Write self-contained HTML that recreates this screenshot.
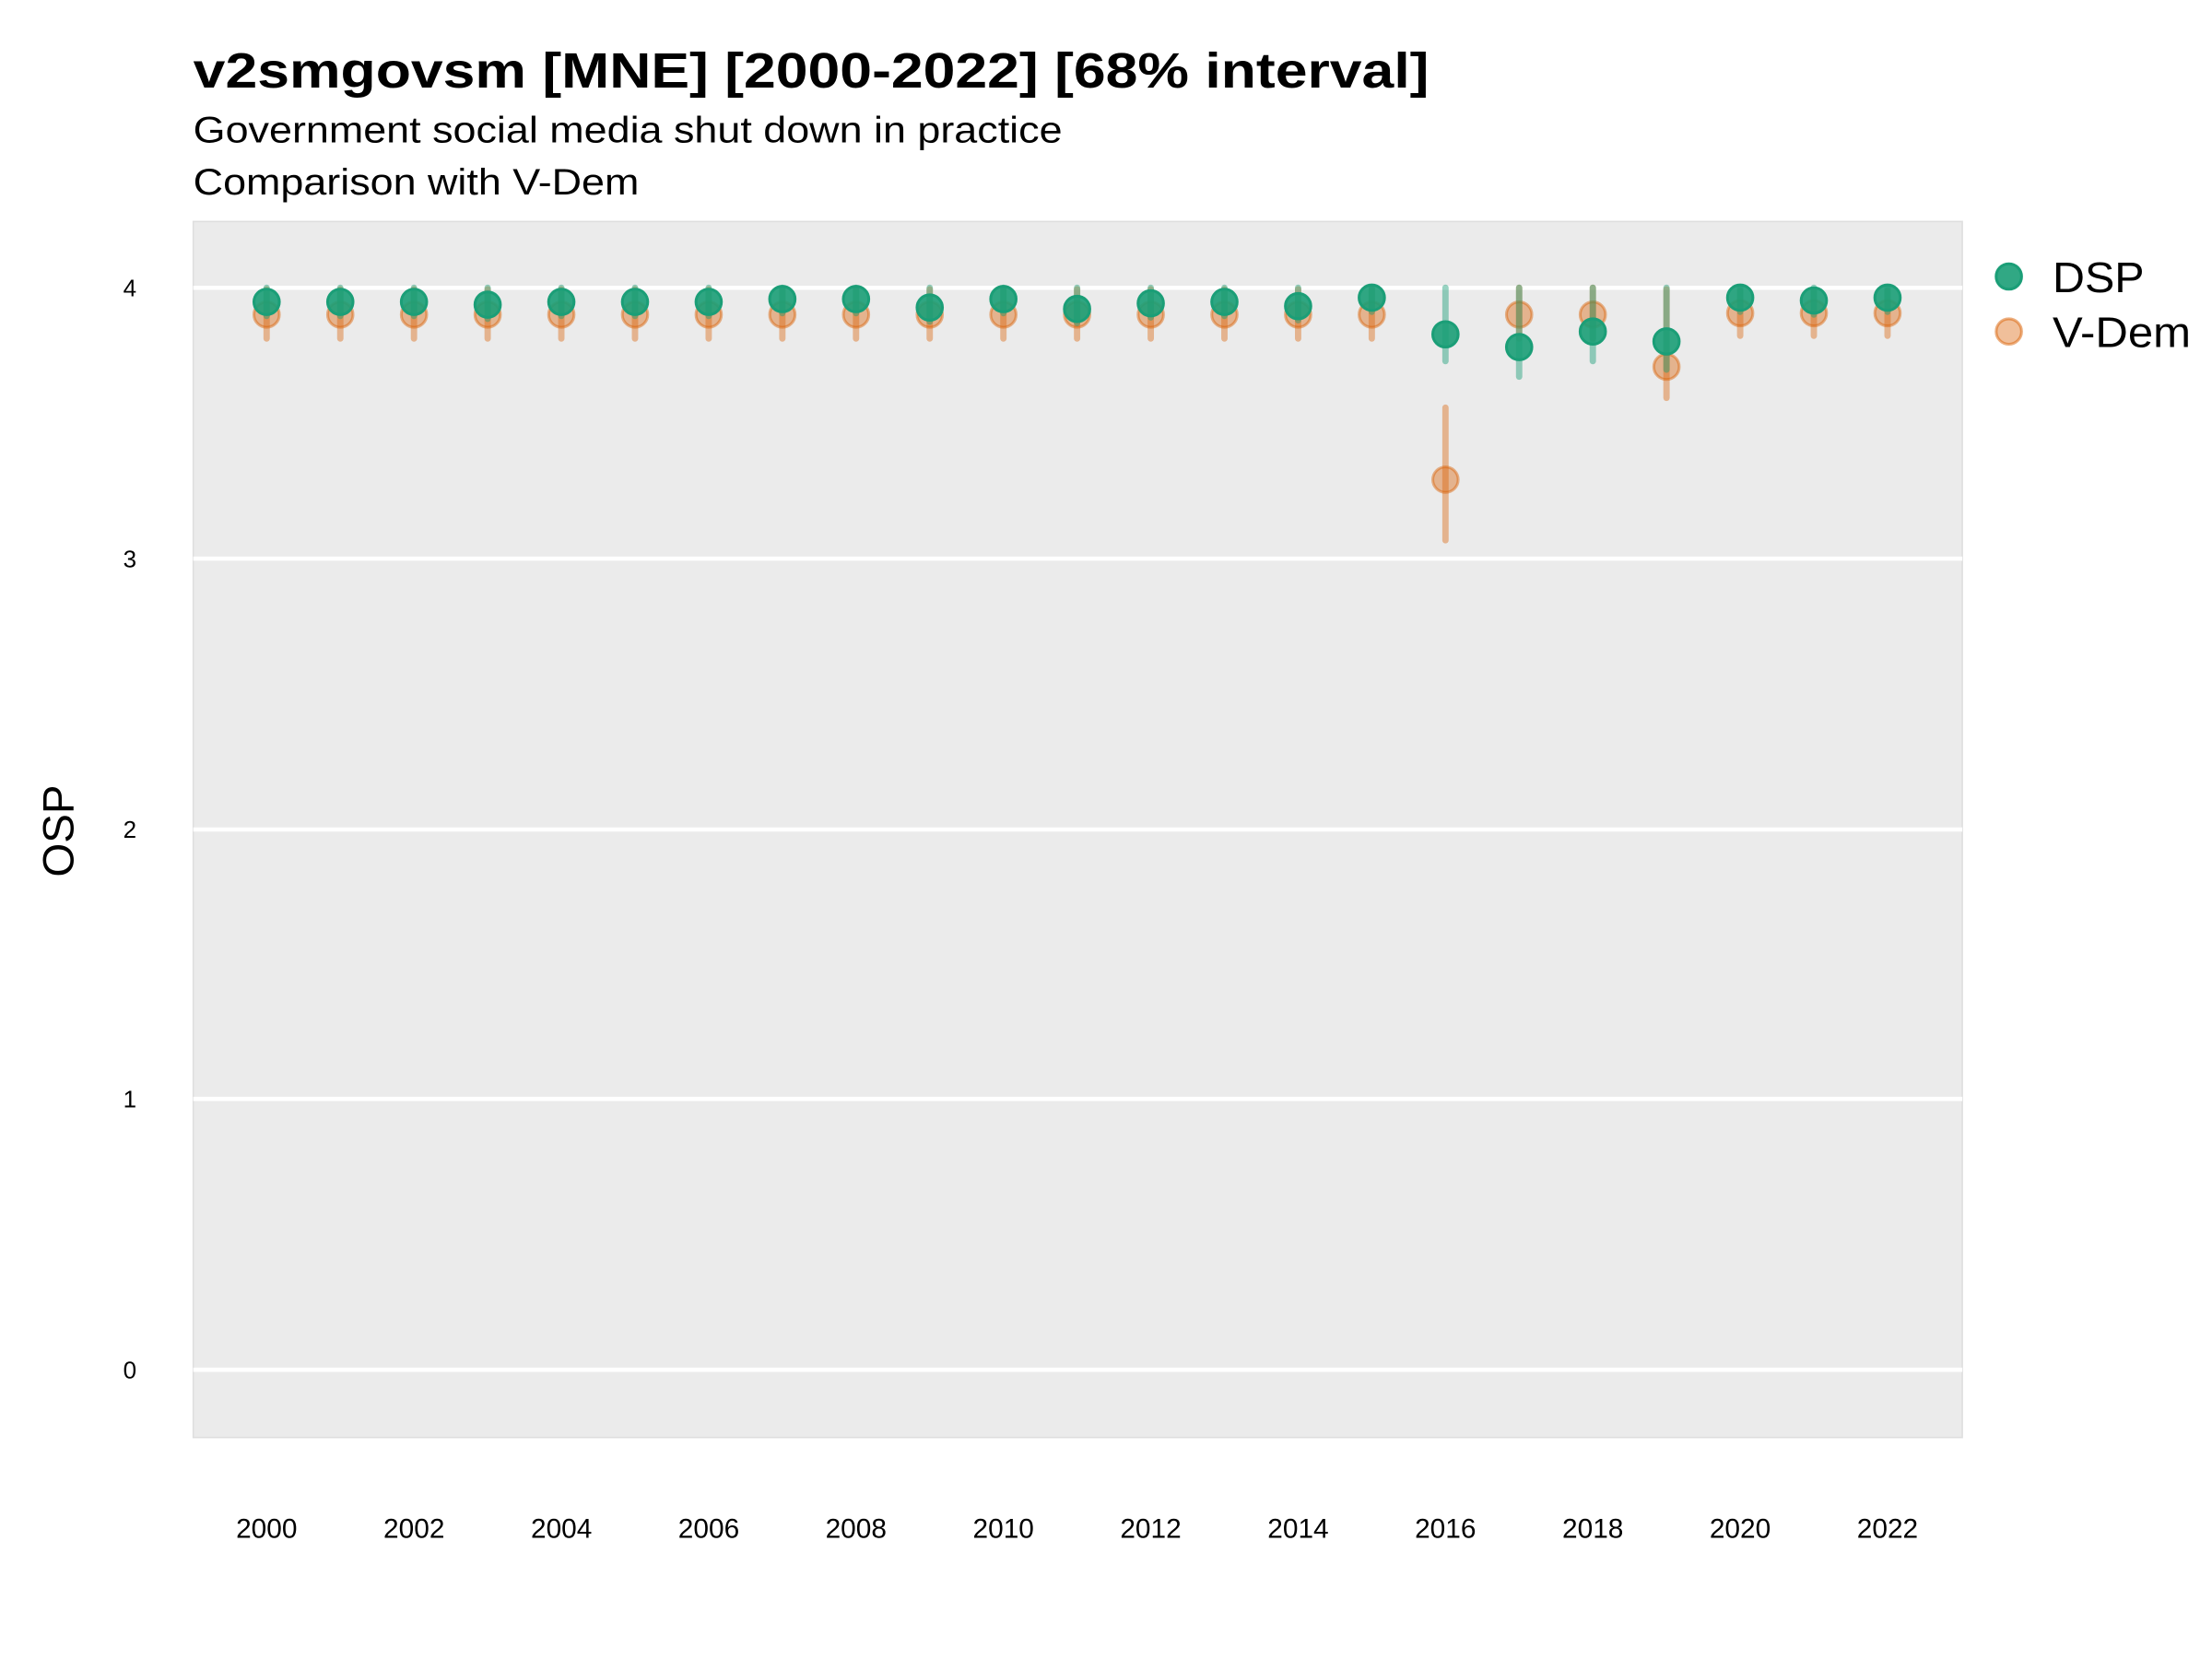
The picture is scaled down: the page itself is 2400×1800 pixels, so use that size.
<!DOCTYPE html>
<html><head><meta charset="utf-8"><style>html,body{margin:0;padding:0;background:#fff}svg{display:block}</style></head>
<body>
<svg width="2400" height="1800" viewBox="0 0 1568 1176" xmlns="http://www.w3.org/2000/svg" font-family="Liberation Sans, sans-serif">
<rect width="1568" height="1176" fill="#fff"/>
<text x="137" y="62" font-size="35" font-weight="bold" textLength="876" lengthAdjust="spacingAndGlyphs">v2smgovsm [MNE] [2000-2022] [68% interval]</text>
<text x="137" y="101" font-size="26" textLength="616" lengthAdjust="spacingAndGlyphs">Government social media shut down in practice</text>
<text x="137" y="138" font-size="26" textLength="316" lengthAdjust="spacingAndGlyphs">Comparison with V-Dem</text>
<rect x="137" y="157" width="1254" height="862" fill="#ebebeb" stroke="#dedede" stroke-width="1"/>
<g stroke="#fff" stroke-width="3">
<line x1="137" x2="1391" y1="204" y2="204"/><line x1="137" x2="1391" y1="396" y2="396"/>
<line x1="137" x2="1391" y1="588" y2="588"/><line x1="137" x2="1391" y1="779" y2="779"/>
<line x1="137" x2="1391" y1="971" y2="971"/>
</g>
<g font-size="17" text-anchor="middle">
<text x="92" y="210">4</text><text x="92" y="402">3</text><text x="92" y="594">2</text><text x="92" y="785">1</text><text x="92" y="977">0</text>
</g>
<g font-size="19.5" text-anchor="middle">
<text x="189" y="1090">2000</text><text x="293.5" y="1090">2002</text><text x="398" y="1090">2004</text><text x="502.4" y="1090">2006</text><text x="606.8" y="1090">2008</text><text x="711.3" y="1090">2010</text><text x="815.7" y="1090">2012</text><text x="920.2" y="1090">2014</text><text x="1024.6" y="1090">2016</text><text x="1129.1" y="1090">2018</text><text x="1233.5" y="1090">2020</text><text x="1338" y="1090">2022</text>
</g>
<text transform="translate(52,589) rotate(-90)" font-size="31" text-anchor="middle">OSP</text>
<g id="vdem" stroke-linecap="round"></g>
<g id="dsp" stroke-linecap="round"></g>
<circle cx="1424" cy="196" r="9" fill="#1b9e77" fill-opacity="0.9" stroke="#1b9e77" stroke-width="2"/>
<circle cx="1424" cy="235" r="9" fill="#d95f02" fill-opacity="0.4" stroke="#d95f02" stroke-opacity="0.5" stroke-width="2"/>
<text x="1455" y="207" font-size="30" textLength="65" lengthAdjust="spacingAndGlyphs">DSP</text>
<text x="1455" y="246" font-size="30" textLength="98" lengthAdjust="spacingAndGlyphs">V-Dem</text>
<script>
var ns="http://www.w3.org/2000/svg";
function X(i){return 189+i*52.2273;}
var dsp=[214,214,214,216,214,214,214,212,212,218,212,219,215,214,217,211,237,246,235,242,211,213,211];
var dlo=[204,204,204,204,204,204,204,204,204,204,204,204,204,204,204,204,204,204,204,204,204,204,204];
var dhi=[224,224,224,226,224,224,224,222,222,228,222,229,225,224,227,221,256,267,256,262,221,223,221];
var vd=[223,223,223,223,223,223,223,223,223,223,223,223,223,223,223,223,340,223,223,260,222,222,222];
var vlo=[205,205,205,205,205,205,205,205,205,205,205,205,205,205,205,205,289,204,204,205,206,206,206];
var vhi=[240,240,240,240,240,240,240,240,240,240,240,240,240,240,240,240,383,240,240,282,238,238,238];
function add(g,tag,a){var e=document.createElementNS(ns,tag);for(var k in a)e.setAttribute(k,a[k]);g.appendChild(e);}
var gv=document.getElementById("vdem"),gd=document.getElementById("dsp");
for(var i=0;i<23;i++){
 add(gv,"line",{x1:X(i),x2:X(i),y1:vlo[i],y2:vhi[i],stroke:"#d95f02","stroke-opacity":0.4,"stroke-width":4.5});
 add(gv,"circle",{cx:X(i),cy:vd[i],r:9,fill:"#d95f02","fill-opacity":0.4,stroke:"#d95f02","stroke-opacity":0.45,"stroke-width":2});
}
for(var i=0;i<23;i++){
 add(gd,"line",{x1:X(i),x2:X(i),y1:dlo[i],y2:dhi[i],stroke:"#1b9e77","stroke-opacity":0.45,"stroke-width":4.5});
 add(gd,"circle",{cx:X(i),cy:dsp[i],r:9,fill:"#1b9e77","fill-opacity":0.9,stroke:"#1b9e77","stroke-width":2});
}
</script>
</svg>
</body></html>
